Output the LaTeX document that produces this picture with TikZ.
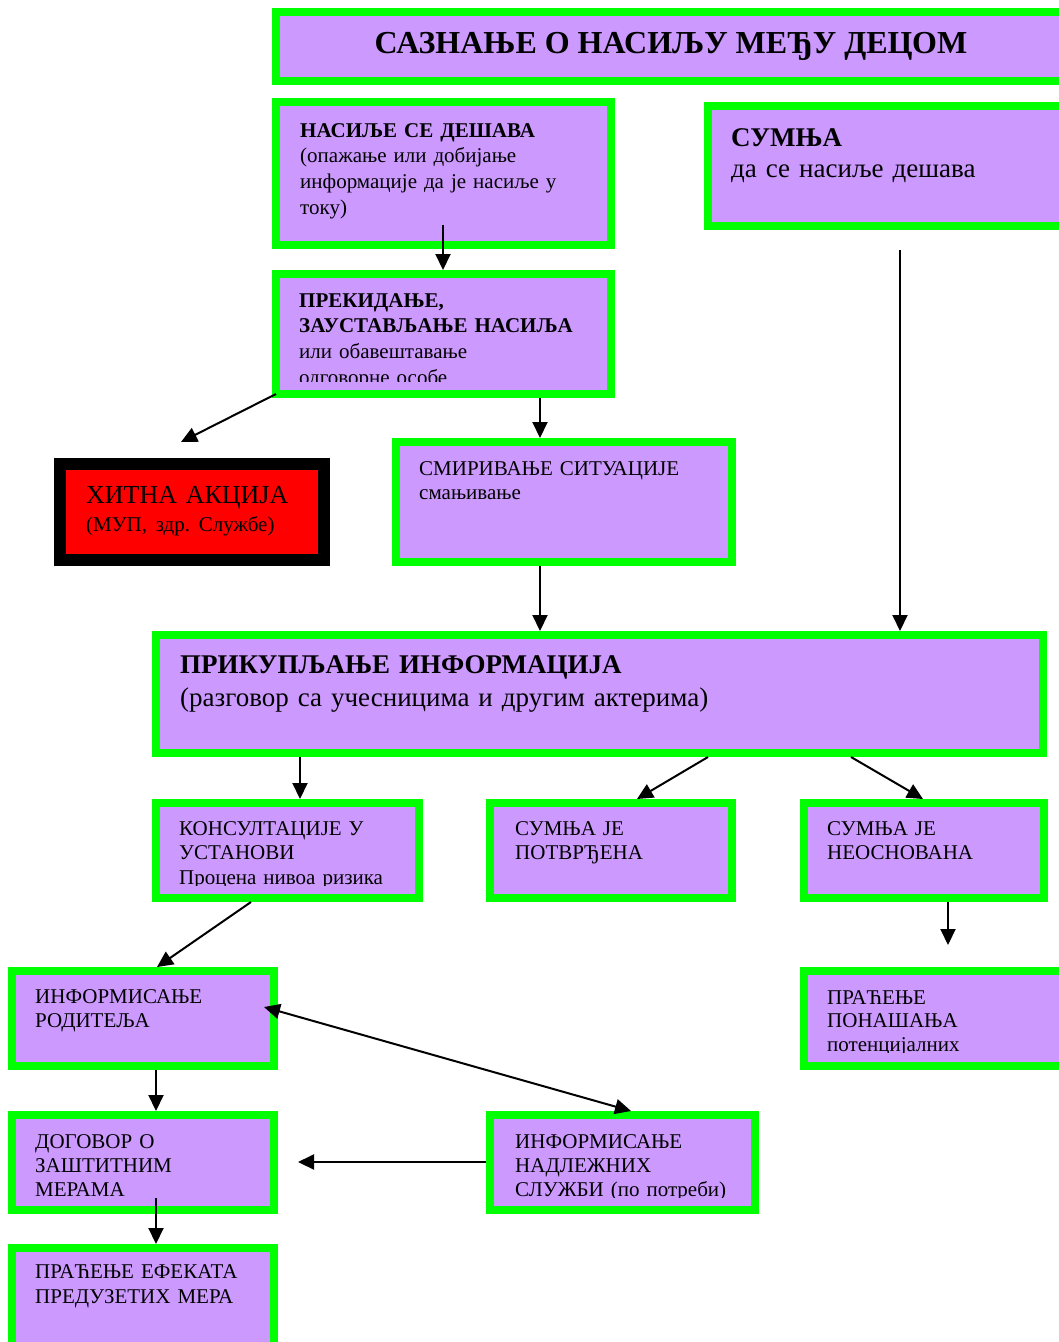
\documentclass[tikz,border=0pt]{standalone}
\usepackage{fontspec}
\setmainfont{Liberation Serif}
\usetikzlibrary{arrows.meta}
\definecolor{boxpurple}{RGB}{204,153,255}
\definecolor{boxgreen}{RGB}{0,255,0}
\newcommand\fsz[2]{\fontsize{#1}{#2}\selectfont}
\frenchspacing
\begin{document}
\begin{tikzpicture}[x=1pt,y=-1pt,
 box/.style={draw=boxgreen, fill=boxpurple, line width=8pt, inner sep=0pt, anchor=north west},
 txt/.style={anchor=base west, inner sep=0pt, align=left, text width=700pt},
 arr/.style={draw=black, line width=2pt, -{Triangle[length=16pt,width=15pt]}},
 dbl/.style={draw=black, line width=2pt, {Triangle[length=16pt,width=15pt]}-{Triangle[length=16pt,width=15pt]}},
]
\useasboundingbox (0,0) rectangle (1059,1342);
\clip (0,0) rectangle (1059,1342);

% ---------- boxes (anchor = outer edge of the green frame) ----------
\node[box, minimum width=795pt, minimum height=69pt] (title) at (272,8) {};
\node[box, minimum width=335pt, minimum height=143pt] (b1) at (272,98) {};
\node[box, minimum width=363pt, minimum height=120pt] (sumnja) at (704,102) {};
\node[box, minimum width=335pt, minimum height=120pt] (b3) at (272,270) {};
\node[draw=black, fill=red, line width=12pt, inner sep=0pt, anchor=north west,
      minimum width=264pt, minimum height=96pt] (hitna) at (54,458) {};
\node[box, minimum width=336pt, minimum height=120pt] (smir) at (392,438) {};
\node[box, minimum width=887pt, minimum height=118pt] (prik) at (152,631) {};
\node[box, minimum width=263pt, minimum height=95pt] (kons) at (152,799) {};
\node[box, minimum width=242pt, minimum height=95pt] (potv) at (486,799) {};
\node[box, minimum width=240pt, minimum height=95pt] (neos) at (800,799) {};
\node[box, minimum width=262pt, minimum height=95pt] (rod) at (8,967) {};
\node[box, minimum width=263pt, minimum height=95pt] (prac) at (800,967) {};
\node[box, minimum width=262pt, minimum height=95pt] (dog) at (8,1111) {};
\node[box, minimum width=265pt, minimum height=95pt] (nadl) at (486,1111) {};
\node[box, minimum width=262pt, minimum height=98pt] (efek) at (8,1244) {};

% ---------- texts ----------
\node[anchor=base, inner sep=0pt, font=\bfseries\fsz{32}{36}] (ttitle) at (671,53) {САЗНАЊЕ О НАСИЉУ МЕЂУ ДЕЦОМ};
\node[txt, font=\fsz{21}{25.8}] (tb1) at (300,137)
  {\textbf{НАСИЉЕ СЕ ДЕШАВА}\\(опажање или добијање\\информације да је насиље у\\току)};
\node[txt, font=\fsz{27}{31}] (tsumnja) at (731,146) {\textbf{СУМЊА}\\да се насиље дешава};
\begin{scope}
  \clip (276,274) rectangle (611,381);
  \node[txt, font=\fsz{21}{25.7}] (tb3) at (299,307)
    {\textbf{ПРЕКИДАЊЕ,}\\\textbf{ЗАУСТАВЉАЊЕ НАСИЉА}\\или обавештавање\\одговорне особе};
\end{scope}
\node[txt, font=\fsz{26}{28}] (thitna) at (86,503) {ХИТНА АКЦИЈА\\{\fsz{21}{28}(МУП, здр. Службе)}};
\node[txt, font=\fsz{21}{24}] (tsmir) at (419,475) {СМИРИВАЊЕ СИТУАЦИЈЕ\\{\fsz{21}{24}смањивање}};
\node[txt, font=\fsz{27}{33}] (tprik) at (180,673)
  {\textbf{ПРИКУПЉАЊЕ ИНФОРМАЦИЈА}\\(разговор са учесницима и другим актерима)};
\begin{scope}
  \clip (156,803) rectangle (419,885);
  \node[txt, font=\fsz{21}{24.5}] (tkons) at (179,835)
    {КОНСУЛТАЦИЈЕ У\\УСТАНОВИ\\Процена нивоа ризика};
\end{scope}
\node[txt, font=\fsz{21}{24.5}] (tpotv) at (515,835) {СУМЊА ЈЕ\\ПОТВРЂЕНА};
\node[txt, font=\fsz{21}{24.5}] (tneos) at (827,835) {СУМЊА ЈЕ\\НЕОСНОВАНА};
\node[txt, font=\fsz{21}{24.5}] (trod) at (35,1003) {ИНФОРМИСАЊЕ\\РОДИТЕЉА};
\begin{scope}
  \clip (804,971) rectangle (1059,1052);
  \node[txt, font=\fsz{21}{23.5}] (tprac) at (827,1004)
    {ПРАЋЕЊЕ\\ПОНАШАЊА\\потенцијалних};
\end{scope}
\node[txt, font=\fsz{21}{24}] (tdog) at (35,1148) {ДОГОВОР О\\ЗАШТИТНИМ\\МЕРАМА};
\begin{scope}
  \clip (490,1115) rectangle (755,1197);
  \node[txt, font=\fsz{21}{24}] (tnadl) at (515,1148)
    {ИНФОРМИСАЊЕ\\НАДЛЕЖНИХ\\СЛУЖБИ (по потреби)};
\end{scope}
\node[txt, font=\fsz{21}{25}] (tefek) at (35,1278) {ПРАЋЕЊЕ ЕФЕКАТА\\ПРЕДУЗЕТИХ МЕРА};

% ---------- connector points ----------
\coordinate (p1) at (443,225);
\coordinate (p2) at (900,250);
\coordinate (p3a) at (276,394);
\coordinate (p3) at (181,442);
\coordinate (x540) at (540,0);
\coordinate (x300) at (300,0);
\coordinate (p7a) at (708,0);
\coordinate (p7b) at (637,0);
\coordinate (p8a) at (851,0);
\coordinate (p8b) at (923,0);
\coordinate (x948) at (948,0);
\coordinate (p9) at (948,945);
\coordinate (p10a) at (251,0);
\coordinate (p10b) at (157,0);
\coordinate (p11a) at (264,1007);
\coordinate (p11b) at (631,0);
\coordinate (x156) at (156,0);
\coordinate (p14) at (156,1198);
\coordinate (y1162) at (0,1162);
\coordinate (p13) at (298,1162);

% ---------- connectors ----------
\draw[arr] (p1) -- (p1 |- b3.north);
\draw[arr] (p2) -- (p2 |- prik.north);
\draw[arr] (p3a) -- (p3);
\draw[arr] (x540 |- b3.south) -- (x540 |- smir.north);
\draw[arr] (x540 |- smir.south) -- (x540 |- prik.north);
\draw[arr] (x300 |- prik.south) -- (x300 |- kons.north);
\draw[arr] (p7a |- prik.south) -- (p7b |- potv.north);
\draw[arr] (p8a |- prik.south) -- (p8b |- neos.north);
\draw[arr] (x948 |- neos.south) -- (p9);
\draw[arr] (p10a |- kons.south) -- (p10b |- rod.north);
\draw[dbl] (p11a) -- (p11b |- nadl.north);
\draw[arr] (x156 |- rod.south) -- (x156 |- dog.north);
\draw[arr] (nadl.west |- y1162) -- (p13);
\draw[arr] (p14) -- (p14 |- efek.north);
\end{tikzpicture}
\end{document}
